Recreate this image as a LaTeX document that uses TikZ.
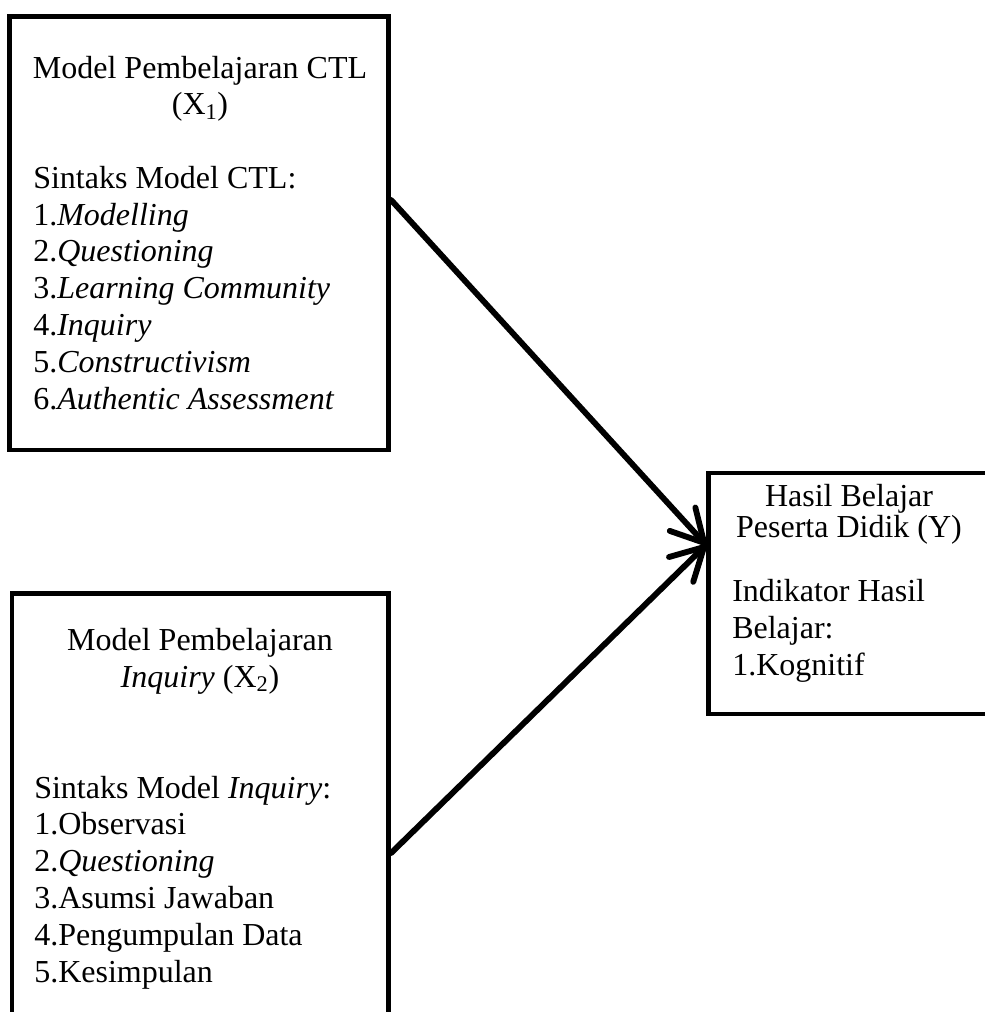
\documentclass[tikz,border=0pt]{standalone}
\usepackage{fontspec}
\setmainfont{Liberation Serif}
\usetikzlibrary{arrows.meta,fit}
\tikzset{
  box/.style={draw=black, line width=3.6pt, inner sep=0pt, fill=none},
  txt/.style={inner sep=0pt, font=\fontsize{24}{27.6}\selectfont},
  arr/.style={line width=4.4pt, line cap=round, -{Straight Barb[length=24pt,width=26pt,round]}}
}
\begin{document}
\begin{tikzpicture}[x=0.75pt,y=-0.75pt]
\fill[white] (0,0) rectangle (984,1012);
\useasboundingbox (0,0) rectangle (984,1012);
% boxes
\node[box, fit={(9.5,16.5) (388.7,450)}] (b1) {};
\node[box, fit={(12,593.5) (388.7,1045)}] (b2) {};
\node[box, fit={(708.5,473) (990,714)}] (b3) {};
% texts box 1 (base anchor = baseline of last line)
\node[txt, anchor=base, align=center] (t1) at (200,115) {Model Pembelajaran CTL\\(X\textsubscript{1})};
\node[txt, anchor=base west, align=left] (l1) at (33,409) {Sintaks Model CTL:\\1.\textit{Modelling}\\2.\textit{Questioning}\\3.\textit{Learning Community}\\4.\textit{Inquiry}\\5.\textit{Constructivism}\\6.\textit{Authentic Assessment}};
% texts box 2
\node[txt, anchor=base, align=center] (t2) at (200,687) {Model Pembelajaran\\\textit{Inquiry} (X\textsubscript{2})};
\node[txt, anchor=base west, align=left] (l2) at (34,982) {Sintaks Model \textit{Inquiry}:\\1.Observasi\\2.\textit{Questioning}\\3.Asumsi Jawaban\\4.Pengumpulan Data\\5.Kesimpulan};
% texts box 3
\node[txt, anchor=base, align=center, font=\fontsize{24}{23}\selectfont] (t3) at (849,537) {Hasil Belajar\\Peserta Didik (Y)};
\node[txt, anchor=base west, align=left] (l3) at (732,675) {Indikator Hasil\\Belajar:\\1.Kognitif};
% arrows
\draw[arr] (b1.east |- 0,200) -- (b3.west |- 0,545);
\draw[arr] (b2.east |- 0,853) -- (b3.west |- 0,545);
\end{tikzpicture}
\end{document}
